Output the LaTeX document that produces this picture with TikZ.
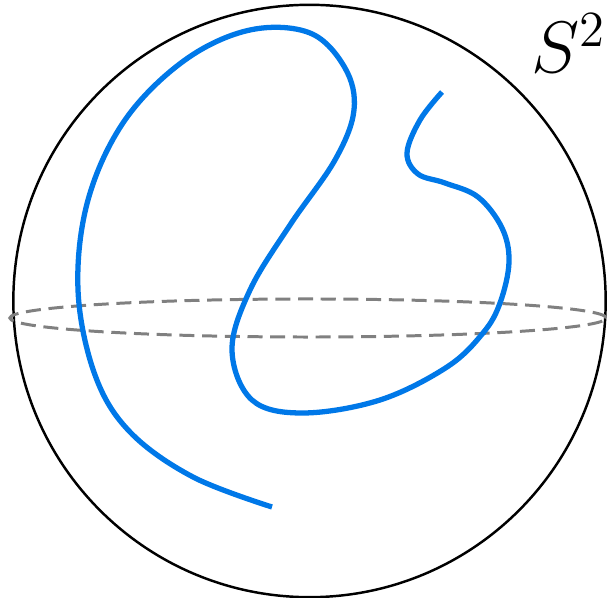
\documentclass[tikz,border=0pt]{standalone}
\usepackage{amsmath,amssymb}
\usepackage{tikz}
\usetikzlibrary{positioning,calc}
\usepackage{xcolor}
\definecolor{curveblue}{RGB}{0,120,232}

\begin{document}
\begin{tikzpicture}[
    x=0.01cm, y=-0.01cm,
    sphere/.style={draw=black, line width=0.7pt},
    equator/.style={draw=black!50, line width=0.85pt, dash pattern=on 0.15cm off 0.077cm},
    knot/.style={draw=curveblue, line width=1.5pt, line cap=butt},
    spherelabel/.style={inner sep=0pt, anchor=base west, font=\fontsize{19.5}{23}\selectfont}
]
\useasboundingbox (0,0) rectangle (607,598);

% 球面
\draw[sphere] (309.5,301) circle[radius=2.96cm];
\draw[equator] (308,318) ellipse[x radius=2.98cm, y radius=0.19cm];
\node[spherelabel] (s2) at (531,73) {$S^2$};

% 曲線
\draw[knot] plot[smooth, tension=0.6] coordinates {
    (272,507) (193,477) (130,432) (95,375) (78,290) (88,200) (125,120)
    (185,60) (250,30) (310,33) (345,68) (354,110) (335,160) (290,225)
    (250,290) (232,350) (252,400) (303,413) (380,400) (447,367) (483,333)
    (500,303) (509,262) (502,228) (478,197) (445,183) (418,174) (407,153)
    (420,120) (442,92)};

\end{tikzpicture}
\end{document}
